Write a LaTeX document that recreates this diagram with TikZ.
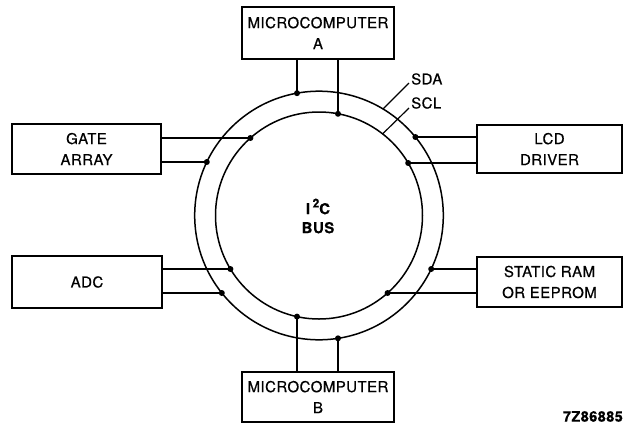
\documentclass[tikz,border=0pt]{standalone}
\usepackage{fontspec}
\setmainfont{TeX Gyre Heros}[LetterSpace=3, FakeBold=0.5]
\begin{document}
\begin{tikzpicture}[x=1pt,y=-1pt,
  box/.style={draw, line width=1.8pt, rectangle, align=center, inner sep=0pt,
    font=\fontsize{15}{21}\selectfont},
  wire/.style={line width=1.4pt},
  ring/.style={line width=1.5pt},
  lbl/.style={font=\fontsize{15}{18}\selectfont, inner sep=0pt},
  dot/.style={circle, fill=black, inner sep=0pt, minimum size=6pt}]
\useasboundingbox (0,0) rectangle (624,424);
% boxes
\node[box, minimum width=152pt, minimum height=52pt] (ma) at (318,33) {MICROCOMPUTER\\A};
\node[box, minimum width=152pt, minimum height=50pt] (mb) at (318,397) {MICROCOMPUTER\\B};
\node[box, minimum width=149pt, minimum height=50pt] (ga) at (86.5,149) {GATE\\ARRAY};
\node[box, minimum width=150pt, minimum height=52pt] (adc) at (87,282) {ADC};
\node[box, minimum width=145pt, minimum height=48pt] (lcd) at (549.5,149) {LCD\\DRIVER};
\node[box, minimum width=145pt, minimum height=50pt] (ram) at (549.5,282) {STATIC RAM\\OR EEPROM};
% bus
\coordinate (c) at (319,215.5);
\draw[ring] (c) circle (124.3);
\draw[ring] (c) circle (103.5);
\node[font=\bfseries\fontsize{15}{19}\selectfont, align=center, inner sep=0pt] (bus) at (318,216) {I\,\raisebox{0.45em}{\fontsize{12}{12}\selectfont 2}C\\BUS};
% connection points
\coordinate (ta1) at (297,93.2);
\coordinate (ta2) at (338,113.8);
\coordinate (tb1) at (297,316.6);
\coordinate (tb2) at (338,338.3);
\coordinate (g1) at (250.4,138);
\coordinate (g2) at (206.8,162);
\coordinate (a1) at (230.4,269);
\coordinate (a2) at (221.8,293);
\coordinate (l1) at (415.4,137);
\coordinate (l2) at (408.2,163);
\coordinate (r1) at (431.2,269);
\coordinate (r2) at (387.6,293);
% wires
\draw[wire] (ma.south -| ta1) -- (ta1);
\draw[wire] (ma.south -| ta2) -- (ta2);
\draw[wire] (mb.north -| tb1) -- (tb1);
\draw[wire] (mb.north -| tb2) -- (tb2);
\draw[wire] (ga.east |- g1) -- (g1);
\draw[wire] (ga.east |- g2) -- (g2);
\draw[wire] (adc.east |- a1) -- (a1);
\draw[wire] (adc.east |- a2) -- (a2);
\draw[wire] (lcd.west |- l1) -- (l1);
\draw[wire] (lcd.west |- l2) -- (l2);
\draw[wire] (ram.west |- r1) -- (r1);
\draw[wire] (ram.west |- r2) -- (r2);
\foreach \p in {ta1,ta2,tb1,tb2,g1,g2,a1,a2,l1,l2,r1,r2}
  \node[dot] at (\p) {};
% SDA / SCL labels
\coordinate (sdap) at (383,109);
\coordinate (sclp) at (383,133.5);
\node[lbl, anchor=west] (sda) at (411,79) {SDA};
\node[lbl, anchor=west] (scl) at (411,103) {SCL};
\draw[wire, line width=1.2pt] (sdap) -- (409,83);
\draw[wire, line width=1.2pt] (sclp) -- (409,108);
% figure id
\node[font=\bfseries\fontsize{14.5}{17}\selectfont, anchor=south east, inner sep=0pt] (fid) at (623,422) {7Z86885};
\end{tikzpicture}
\end{document}
